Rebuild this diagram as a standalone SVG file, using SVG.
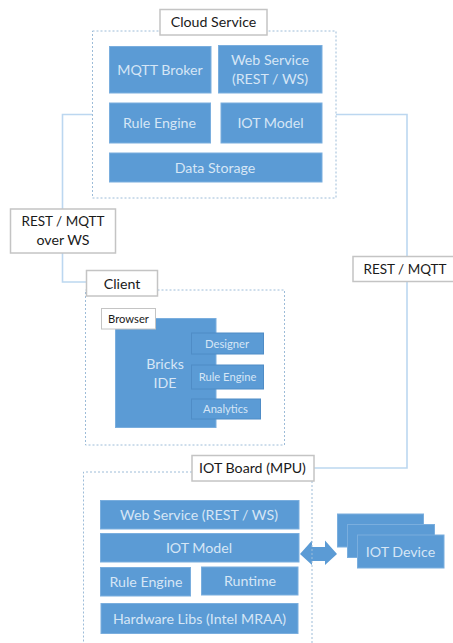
<svg xmlns="http://www.w3.org/2000/svg" width="453" height="643" viewBox="0 0 453 643">
<style>
.b{fill:#5b9bd5;stroke:#7aaede;stroke-width:1}
.e{stroke:#4f8cc6}
.t{fill:#d6e6f5;font-family:Lato,"Liberation Sans",sans-serif;font-size:14.2px;text-anchor:middle}
.l{fill:#fff;stroke:#c4c4c4;stroke-width:1.5}
.n{stroke-width:1}
.k{fill:#1a1a1a;font-family:Lato,"Liberation Sans",sans-serif;font-size:14.2px;text-anchor:middle}
.r{font-size:13.5px}
.s{font-size:11.2px}
.d{fill:none;stroke:#9dbcd8;stroke-width:1;stroke-dasharray:2 2}
.c{fill:none;stroke:#bcd7f0;stroke-width:1.6}
</style>
<rect width="453" height="643" fill="#fff"/>
<g id="connectors">
<path class="c" d="M92 114.500H62.500V282H87"/>
<path class="c" d="M336 114.500H407V468H314"/>
</g>
<g id="cloud">
<rect class="d" x="92.500" y="31" width="243.500" height="167"/>
<rect class="l" x="160" y="9.500" width="107" height="25.500"/>
<text class="k" x="213.500" y="27">Cloud Service</text>
</g>
<g id="mqtt"><rect class="b" x="109.500" y="46.500" width="101.500" height="46.500"/><text class="t" x="160" y="74.500">MQTT Broker</text></g>
<g id="web"><rect class="b" x="218.500" y="45.500" width="103.500" height="47.500"/><text class="t" x="270" y="65">Web Service</text><text class="t" x="270" y="84">(REST / WS)</text></g>
<g id="rule"><rect class="b" x="109.500" y="103" width="101" height="40"/><text class="t" x="159.500" y="128">Rule Engine</text></g>
<g id="model"><rect class="b" x="221" y="103" width="101" height="40"/><text class="t" x="270.500" y="128">IOT Model</text></g>
<g id="storage"><rect class="b" x="109.500" y="153" width="212.500" height="29"/><text class="t" x="215" y="172.500">Data Storage</text></g>
<g id="restws"><rect class="l" x="10.500" y="209" width="105" height="44"/><text class="k r" x="63" y="226">REST / MQTT</text><text class="k" x="63" y="245">over WS</text></g>
<g id="restmqtt"><rect class="l" x="353" y="256.500" width="102" height="25"/><text class="k r" x="405" y="274">REST / MQTT</text></g>
<g id="client">
<rect class="d" x="85.500" y="290" width="199" height="155"/>
<rect class="l" x="86.500" y="270.500" width="71" height="25.500"/>
<text class="k" x="122" y="288.500">Client</text>
</g>
<g id="ide"><rect class="b" x="115.500" y="318.500" width="100.500" height="109"/><text class="t" x="165" y="369">Bricks</text><text class="t" x="165" y="388">IDE</text></g>
<g id="browser"><rect class="l n" x="101.500" y="308.500" width="54" height="20.500"/><text class="k s" x="128.500" y="323">Browser</text></g>
<g id="designer"><rect class="b e" x="191.500" y="333" width="72" height="21"/><text class="t s" x="227" y="347.500">Designer</text></g>
<g id="ide-rule"><rect class="b e" x="191.500" y="365" width="72" height="24"/><text class="t s" x="227.500" y="380.500">Rule Engine</text></g>
<g id="analytics"><rect class="b e" x="191.500" y="399" width="69" height="20"/><text class="t s" x="225.500" y="413">Analytics</text></g>
<g id="arrow"><path d="M300 554L312 540.500V547H325V540.500L337 554L325 565V561H312V565Z" fill="#5b9bd5"/></g>
<g id="board">
<path class="d" d="M192 472H83.500V643M312 481V643"/>
<rect class="l" x="192" y="455.500" width="122" height="25.500"/>
<text class="k" x="252.500" y="473">IOT Board (MPU)</text>
</g>
<g id="board-web"><rect class="b" x="100.500" y="500.500" width="198.500" height="28.500"/><text class="t" x="199" y="520">Web Service (REST / WS)</text></g>
<g id="board-model"><rect class="b" x="100.500" y="533.500" width="198.500" height="28.500"/><text class="t" x="199" y="553">IOT Model</text></g>
<g id="board-rule"><rect class="b" x="100.500" y="567.500" width="90" height="28.500"/><text class="t" x="146" y="587">Rule Engine</text></g>
<g id="runtime"><rect class="b" x="201.500" y="567" width="96.500" height="28"/><text class="t" x="250" y="586">Runtime</text></g>
<g id="hw"><rect class="b" x="101" y="603.500" width="197" height="30"/><text class="t" x="199.500" y="624">Hardware Libs (Intel MRAA)</text></g>
<g id="devices">
<rect class="b" x="337.500" y="514" width="86" height="33"/>
<rect class="b" x="347.500" y="524.500" width="87" height="33"/>
<rect class="b" x="357.500" y="535" width="86.500" height="33"/>
<text class="t" x="400.500" y="557">IOT Device</text>
</g>
</svg>
